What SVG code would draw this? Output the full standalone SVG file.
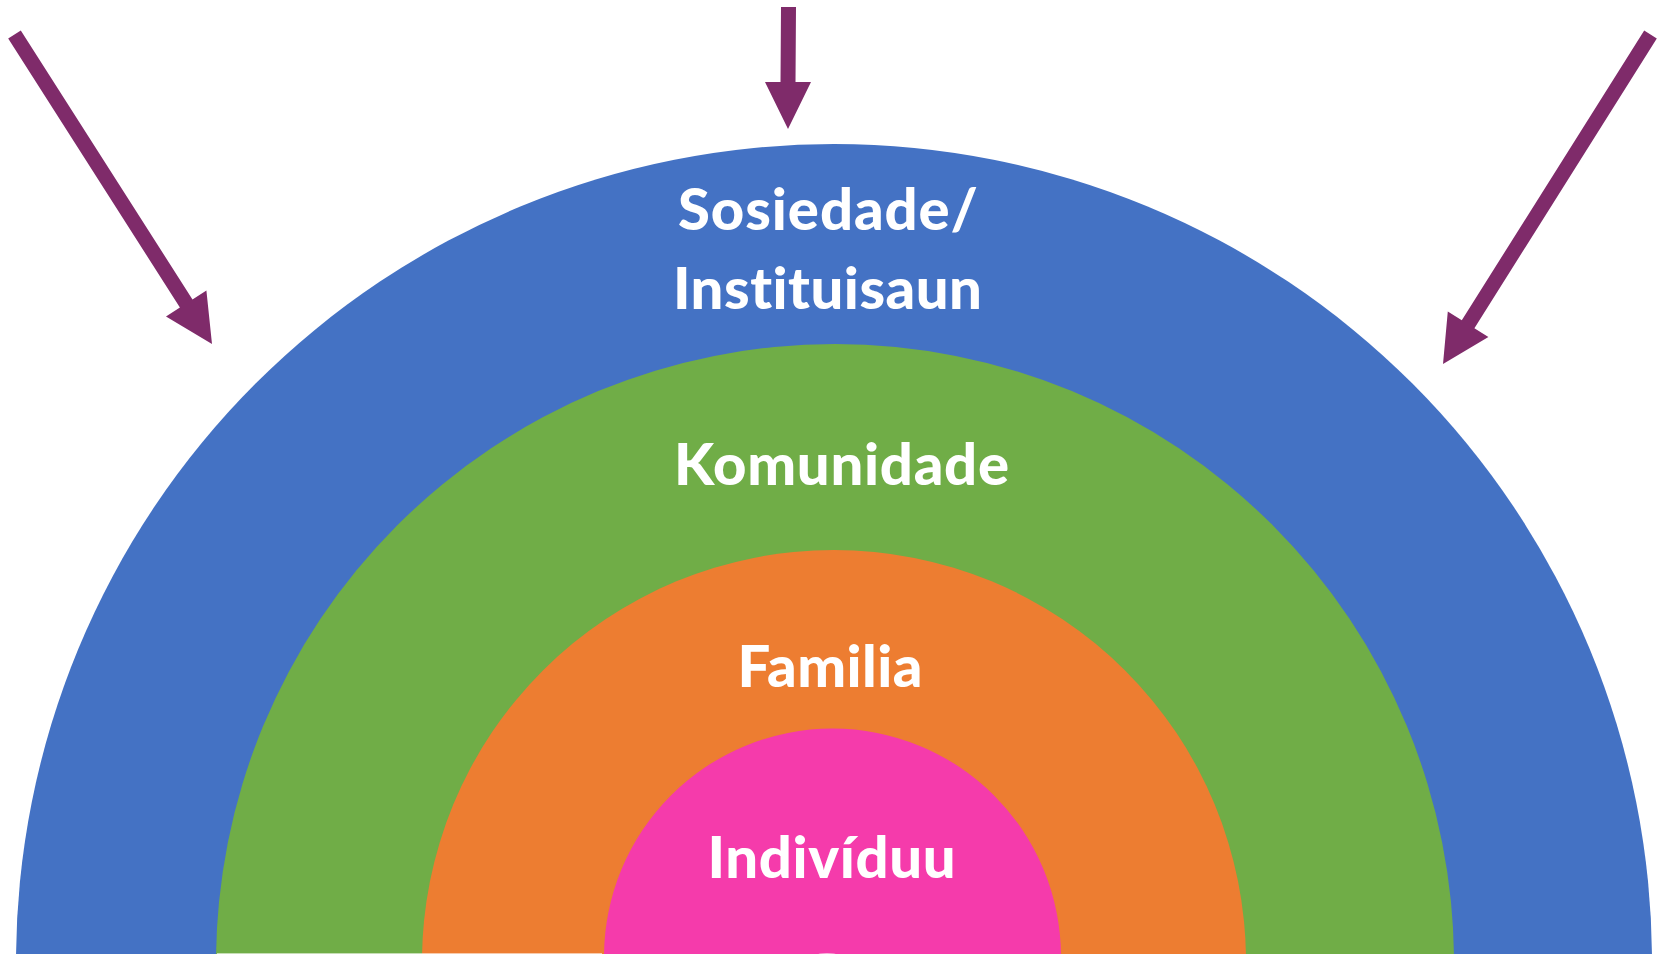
<svg xmlns="http://www.w3.org/2000/svg" width="1659" height="954" viewBox="0 0 1659 954">
  <style>
    .lbl { font-family: Lato, "Open Sans", "Liberation Sans", sans-serif; font-weight: 900; font-size: 58px; fill: #FFFFFF; text-anchor: middle; font-variant-ligatures: none; font-feature-settings: "liga" 0, "clig" 0; }
    .arrow { fill: #7F2B6A; }
  </style>
  <rect x="0" y="0" width="1659" height="954" fill="#FFFFFF"/>
  <g id="sosiedade">
    <circle cx="834" cy="962" r="818" fill="#4472C4"/>
    <text class="lbl" x="828" y="230" textLength="300">Sosiedade/</text>
    <text class="lbl" x="827.5" y="309" textLength="309">Instituisaun</text>
  </g>
  <g id="komunidade">
    <circle cx="835" cy="963" r="619" fill="#70AD47"/>
    <text class="lbl" x="841.5" y="485" textLength="335">Komunidade</text>
  </g>
  <g id="familia">
    <circle cx="834" cy="962" r="412" fill="#ED7D31"/>
    <text class="lbl" x="830" y="687" textLength="185">Familia</text>
  </g>
  <g id="individuu">
    <circle cx="832.5" cy="957" r="228.5" fill="#F53BAB"/>
    <text class="lbl" x="831.5" y="878" textLength="248">Indivíduu</text>
    <ellipse cx="827" cy="955" rx="10" ry="2" fill="#F9B8DE"/>
  </g>
  <rect x="217" y="953" width="385" height="1" fill="#FFFFFF" opacity="0.6"/>
  <g id="connectors">
    <polygon class="arrow" points="20.8,30.5 192.5,299.5 206.4,290.6 212,344 166,316.4 179.9,307.5 8.2,38.5"/>
    <polygon class="arrow" points="781,7 796,7 795.5,82 811,82 788,129 765,82 780.5,82"/>
    <polygon class="arrow" points="1656.8,38.5 1474.4,328.2 1488.4,337 1443,364 1447.8,311.4 1461.8,320.2 1644.2,30.5"/>
  </g>
</svg>
